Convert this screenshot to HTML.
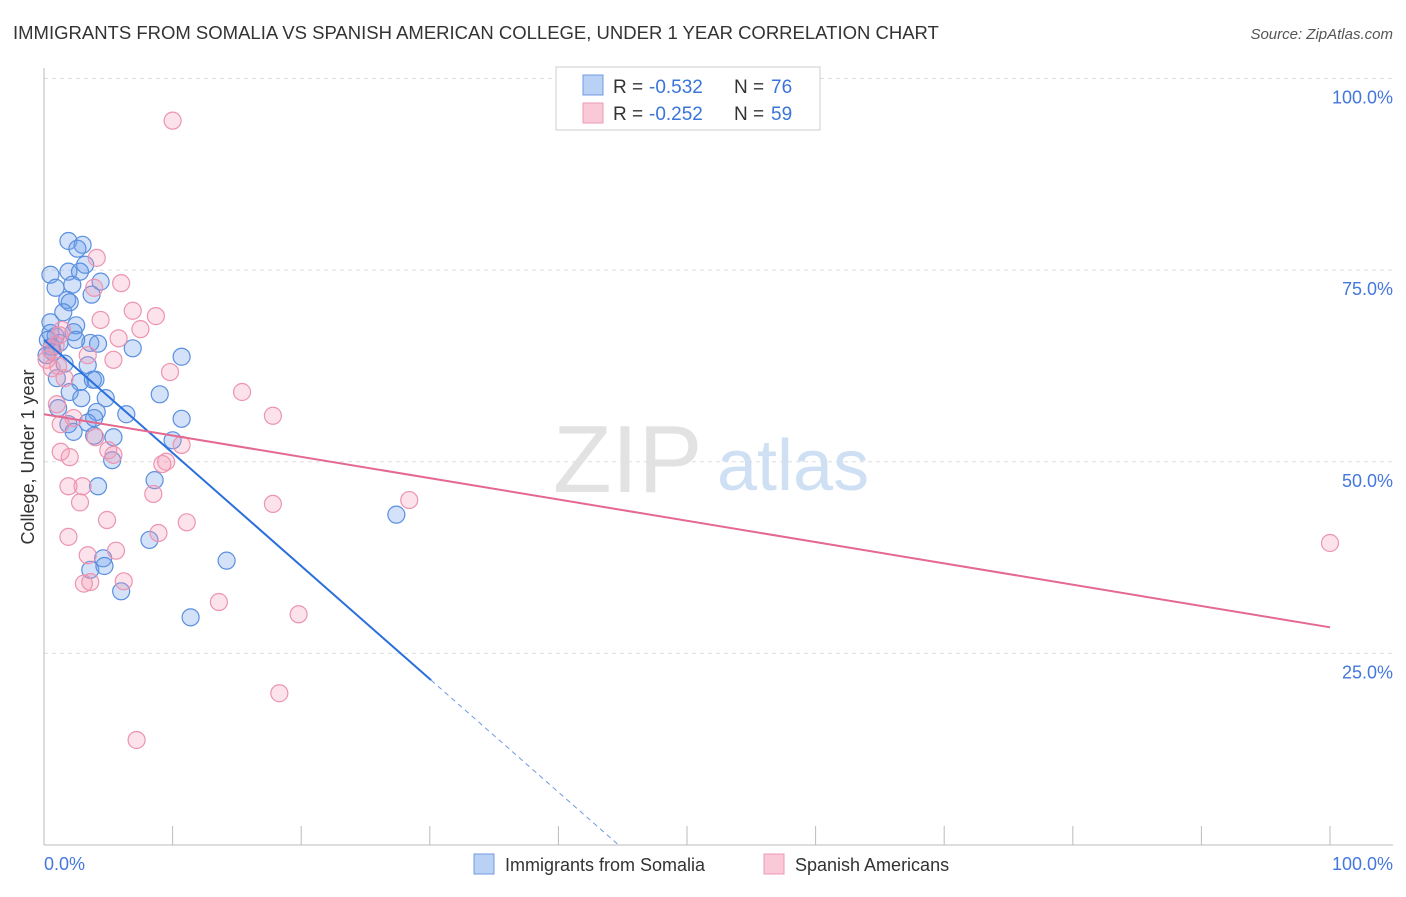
<!DOCTYPE html>
<html><head><meta charset="utf-8"><style>
body{margin:0;background:#fff;font-family:"Liberation Sans",sans-serif;}
svg text{font-family:"Liberation Sans",sans-serif;}
</style></head><body>
<svg id="chart" width="1406" height="892" xmlns="http://www.w3.org/2000/svg">
<text x="13" y="39" font-size="18.5" fill="#333">IMMIGRANTS FROM SOMALIA VS SPANISH AMERICAN COLLEGE, UNDER 1 YEAR CORRELATION CHART</text>
<text x="1393" y="39" font-size="15" fill="#555" text-anchor="end" font-style="italic">Source: ZipAtlas.com</text>
<g id="grid"></g>
<text x="553" y="492" font-size="96" font-family="Liberation Serif,serif" fill="#e2e2e2">ZIP</text>
<text x="717" y="490" font-size="72" fill="#cfe0f5">atlas</text>
<line x1="44" y1="68" x2="44" y2="845" stroke="#bbb" stroke-width="1"/>
<line x1="44" y1="845" x2="1393" y2="845" stroke="#bbb" stroke-width="1"/>
<g id="points"></g>
<g id="trends"></g>
<text transform="translate(34,457) rotate(-90)" font-size="18" fill="#333" text-anchor="middle">College, Under 1 year</text>
<text x="44" y="870" font-size="18" fill="#4477dd">0.0%</text>
<text x="1393" y="870" font-size="18" fill="#4477dd" text-anchor="end">100.0%</text>
<g>
<rect x="556" y="67" width="264" height="63" fill="#fff" stroke="#ccc"/>
<rect x="583" y="75" width="20" height="20" fill="#b9d1f5" stroke="#6f9ae0"/>
<rect x="583" y="103" width="20" height="20" fill="#f9c9d7" stroke="#ec9ab3"/>
<text x="613" y="93" font-size="19" fill="#333">R =</text>
<text x="649" y="93" font-size="19" fill="#3a74d8">-0.532</text>
<text x="734" y="93" font-size="19" fill="#333">N =</text>
<text x="771" y="93" font-size="19" fill="#3a74d8">76</text>
<text x="613" y="120" font-size="19" fill="#333">R =</text>
<text x="649" y="120" font-size="19" fill="#3a74d8">-0.252</text>
<text x="734" y="120" font-size="19" fill="#333">N =</text>
<text x="771" y="120" font-size="19" fill="#3a74d8">59</text>
</g>
<g>
<rect x="474" y="854" width="20" height="20" fill="#b9d1f5" stroke="#6f9ae0"/>
<text x="505" y="871" font-size="18" fill="#333">Immigrants from Somalia</text>
<rect x="764" y="854" width="20" height="20" fill="#f9c9d7" stroke="#ec9ab3"/>
<text x="795" y="871" font-size="18" fill="#333">Spanish Americans</text>
</g>
</svg>
<script>
const yTicks=[25,50,75,100];
const yTickLabels=["25.0%","50.0%","75.0%","100.0%"];
const xTicks=[0,10,20,30,40,50,60,70,80,90,100];
const somaliaX=[1.9,3.0,2.6,3.2,0.5,1.9,2.8,4.4,0.9,2.2,3.7,1.8,2.0,1.5,2.5,0.5,0.5,0.9,2.3,3.6,4.2,1.2,2.5,6.9,10.7,0.7,1.6,3.4,1.0,2.8,3.8,4.0,2.0,2.9,4.8,9.0,1.1,4.1,6.4,10.7,1.9,3.4,3.9,2.3,3.9,5.4,10.0,5.3,8.6,4.2,27.4,8.2,4.6,14.2,3.6,4.7,6.0,11.4,0.3,0.6,0.2];
const somaliaY=[78.8,78.3,77.8,75.7,74.4,74.8,74.8,73.5,72.7,73.1,71.8,71.1,70.8,69.5,67.8,68.2,66.8,66.4,66.9,65.5,65.4,65.5,65.9,64.8,63.7,64.3,62.8,62.6,60.9,60.4,60.7,60.7,59.1,58.3,58.3,58.8,57.0,56.5,56.2,55.6,54.9,55.1,55.7,53.9,53.4,53.2,52.8,50.2,47.6,46.8,43.1,39.8,37.4,37.1,35.9,36.4,33.1,29.7,65.9,65.0,63.9];
const spanishX=[10.0,4.1,6.0,3.9,6.9,8.7,4.4,7.5,5.8,1.4,0.9,3.4,5.4,9.8,1.1,1.6,15.4,17.8,1.0,2.3,1.3,4.0,10.7,5.0,5.4,2.0,1.3,9.5,9.2,3.0,1.9,8.5,28.4,2.8,17.8,4.9,11.1,8.9,1.9,3.4,5.6,6.2,3.1,3.6,13.6,19.8,18.3,7.2,100,0.5,0.2,0.6,1.2];
const spanishY=[94.5,76.6,73.3,72.7,69.7,69.0,68.5,67.3,66.1,67.2,65.2,63.9,63.3,61.7,62.5,60.9,59.1,56.0,57.5,55.7,54.9,53.2,52.2,51.5,50.9,50.6,51.3,50.0,49.7,46.8,46.8,45.8,45.0,44.7,44.5,42.4,42.1,40.7,40.2,37.8,38.4,34.4,34.1,34.3,31.7,30.1,19.8,13.7,39.4,64.6,63.3,62.2,66.5];
const somaliaTrend=[65.9,-1.475];
const spanishTrend=[56.2,-0.278];
const X=v=>44+v*12.86, Y=v=>845-v*7.665;
const NS="http://www.w3.org/2000/svg";
function mk(t,a,p){const e=document.createElementNS(NS,t);for(const k in a)e.setAttribute(k,a[k]);p.appendChild(e);return e;}
const grid=document.getElementById('grid');
yTicks.forEach((t,i)=>{
 const l=mk('line',{x1:44,x2:1393,y1:Y(t),y2:Y(t),stroke:'#ddd','stroke-dasharray':'4,4'},grid);
 
 
 const tx=mk('text',{x:1393,y:Y(t)+25,'font-size':18,fill:'#4477dd','text-anchor':'end'},grid);
 tx.textContent=yTickLabels[i];
 
 
});
xTicks.forEach(t=>{
 const l=mk('line',{x1:X(t),x2:X(t),y1:826,y2:845,stroke:'#bbb'},grid);
 
 
});
const pts=document.getElementById('points');
somaliaX.forEach((x,i)=>{
 const c=mk('circle',{cx:X(x),cy:Y(somaliaY[i]),r:8.5,fill:'rgba(110,160,235,0.3)',stroke:'#5a8fe0','stroke-width':1.2},pts);
 
 
});
spanishX.forEach((x,i)=>{
 const c=mk('circle',{cx:X(x),cy:Y(spanishY[i]),r:8.5,fill:'rgba(245,150,180,0.28)',stroke:'#ec94b0','stroke-width':1.2},pts);
 
 
});
const tr=document.getElementById('trends');
const f=(t,x)=>t[0]+t[1]*x;
const xEnd=30.1, xZero=-somaliaTrend[0]/somaliaTrend[1];
let l1=mk('line',{x1:X(0),y1:Y(f(somaliaTrend,0)),x2:X(xEnd),y2:Y(f(somaliaTrend,xEnd)),stroke:'#2a6fdb','stroke-width':2},tr);


let l2=mk('line',{x1:X(xEnd),y1:Y(f(somaliaTrend,xEnd)),x2:X(xZero),y2:Y(0),stroke:'#6f9ae0','stroke-width':1,'stroke-dasharray':'5,4'},tr);


let l3=mk('line',{x1:X(0),y1:Y(f(spanishTrend,0)),x2:X(100),y2:Y(f(spanishTrend,100)),stroke:'#e4688f','stroke-width':2},tr);


</script>
</body></html>
